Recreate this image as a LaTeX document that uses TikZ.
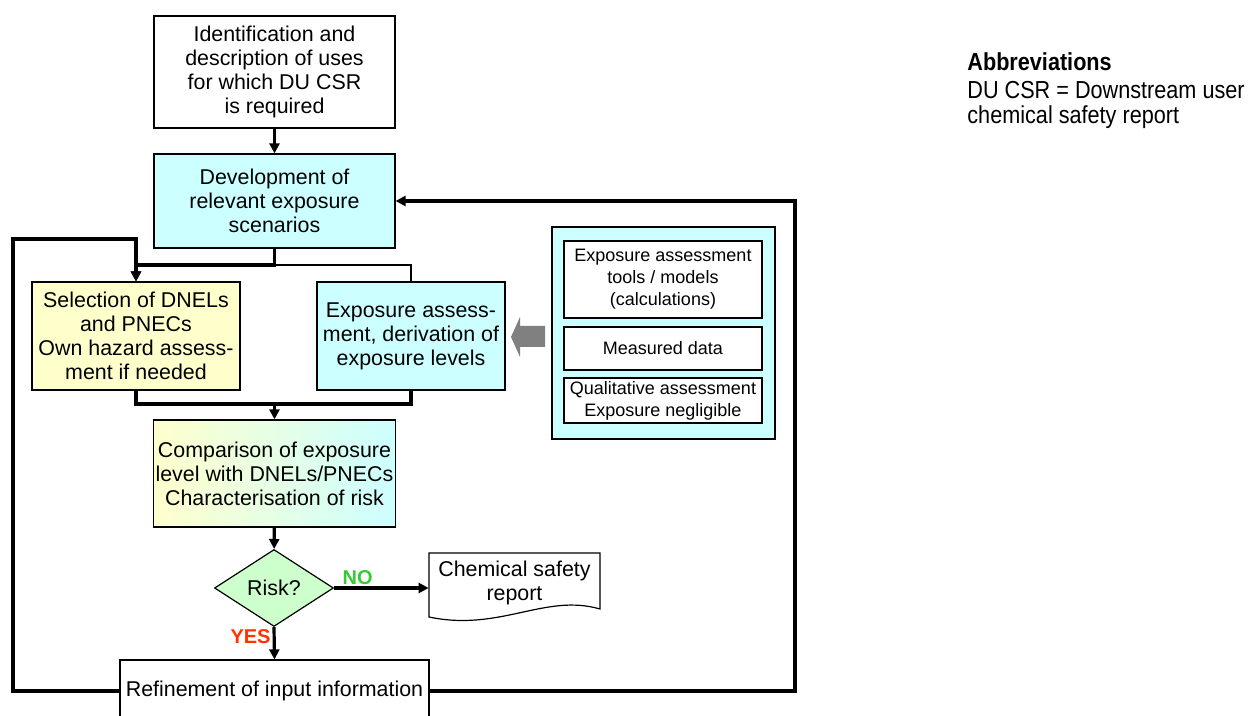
\documentclass[tikz,border=0pt]{standalone}
\usepackage{fontspec}
\setmainfont{Liberation Sans}
\newfontfamily\narrowfont[FakeStretch=0.88]{Liberation Sans}
\usetikzlibrary{shapes.geometric,arrows.meta}

\newcommand{\pxlen}{0.5pt}

\definecolor{boxcyan}{HTML}{CCFFFF}
\definecolor{boxyellow}{HTML}{FFFFCC}
\definecolor{boxgreen}{HTML}{CCFFCC}
\definecolor{nogreen}{HTML}{33CC33}
\definecolor{yesred}{HTML}{FF3300}

\tikzset{
    box/.style={draw, line width=0.6pt, align=center, inner sep=1pt,
        font=\fontsize{10.7}{12}\selectfont},
    smallbox/.style={box, fill=white, minimum width=198*\pxlen,
        font=\fontsize{9}{11}\selectfont},
    flow/.style={line width=1.6pt, -{Triangle[length=5pt,width=5pt]}},
    link/.style={line width=1.6pt},
    answer/.style={font=\bfseries\fontsize{10}{12}\selectfont},
}

\begin{document}
\begin{tikzpicture}[x=\pxlen, y=-\pxlen]
    \useasboundingbox (0,0) rectangle (1249,716);

    % Main column.
    \node[box, fill=white, minimum width=241*\pxlen, minimum height=112*\pxlen] (ident) at (274.5,72)
        {Identification and\\description of uses\\for which DU CSR\\is required};
    \node[box, fill=boxcyan, minimum width=241*\pxlen, minimum height=94*\pxlen] (devel) at (274.5,201)
        {Development of\\relevant exposure\\scenarios};
    \node[box, fill=boxyellow, minimum width=208*\pxlen, minimum height=108*\pxlen] (select) at (136,336)
        {Selection of DNELs\\and PNECs\\Own hazard assess-\\ment if needed};
    \node[box, fill=boxcyan, minimum width=188*\pxlen, minimum height=108*\pxlen] (expo) at (411,336)
        {Exposure assess-\\ment, derivation of\\exposure levels};
    \node[box, left color=boxyellow, right color=boxcyan, minimum width=241*\pxlen, minimum height=107*\pxlen] (compare) at (274.5,473.5)
        {Comparison of exposure\\level with DNELs/PNECs\\Characterisation of risk};
    \node[box, diamond, fill=boxgreen, inner sep=0pt, minimum width=119*\pxlen, minimum height=77*\pxlen] (risk) at (274,588)
        {Risk?};
    \node[box, fill=white, minimum width=309*\pxlen, minimum height=62*\pxlen] (refine) at (274.5,691)
        {Refinement of input information};

    % Report.
    \draw[line width=0.6pt, fill=white] (429,553) -- (600,553) -- (600,609)
        .. controls (545,593) and (500,632) .. (429,617) -- cycle;
    \node[align=center, inner sep=0pt, minimum width=171*\pxlen, minimum height=50*\pxlen,
        font=\fontsize{10.7}{12}\selectfont] (report) at (514.5,583) {Chemical safety\\report};

    % Exposure sources.
    \node[draw, line width=0.6pt, fill=boxcyan, minimum width=223*\pxlen, minimum height=212*\pxlen] (panel) at (663.5,333) {};
    \node[smallbox, minimum height=77*\pxlen] (tools) at (663,279.5)
        {Exposure assessment\\tools / models\\(calculations)};
    \node[smallbox, minimum height=43*\pxlen] (measured) at (663,348.5) {Measured data};
    \node[smallbox, minimum height=45*\pxlen] (quali) at (663,400.5)
        {Qualitative assessment\\Exposure negligible};
    \fill[gray] (545,326) -- (520,326) -- (520,317) -- (511,337) -- (520,357) -- (520,347) -- (545,347) -- cycle;

    % Abbreviations.
    \node[anchor=north west, align=left, inner sep=0pt,
        font=\narrowfont\fontsize{12.3}{12.5}\selectfont] (abbrev) at (967,52)
        {\textbf{Abbreviations}\\[1.5pt]DU CSR = Downstream user\\chemical safety report};

    % Arrows.
    \coordinate (split) at (274.5,265);
    \coordinate (join) at (274.5,404);
    \coordinate (lefttop) at (13,239);
    \coordinate (righttop) at (795,201);
    \draw[flow] (ident) -- (devel);
    \draw[flow] (devel.south) -- (split) -| (select.north);
    \draw[line width=0.6pt] (split) -| (expo.north);
    \draw[link] (select.south) |- (join) -| (expo.south);
    \draw[flow] (join) -- (compare.north);
    \draw[flow] (compare) -- (risk);
    \draw[flow] (risk.east) -- node[answer, text=nogreen, pos=0.25, above, inner sep=1pt] {NO} (risk.east -| report.west);
    \draw[flow] (risk.south) -- node[answer, text=yesred, pos=0.3, left, inner sep=1pt] {YES} (refine.north);
    \draw[flow] (refine.west) -| (lefttop) -| (select.north);
    \draw[flow] (refine.east) -| (righttop) -- (devel.east);

\end{tikzpicture}
\end{document}
